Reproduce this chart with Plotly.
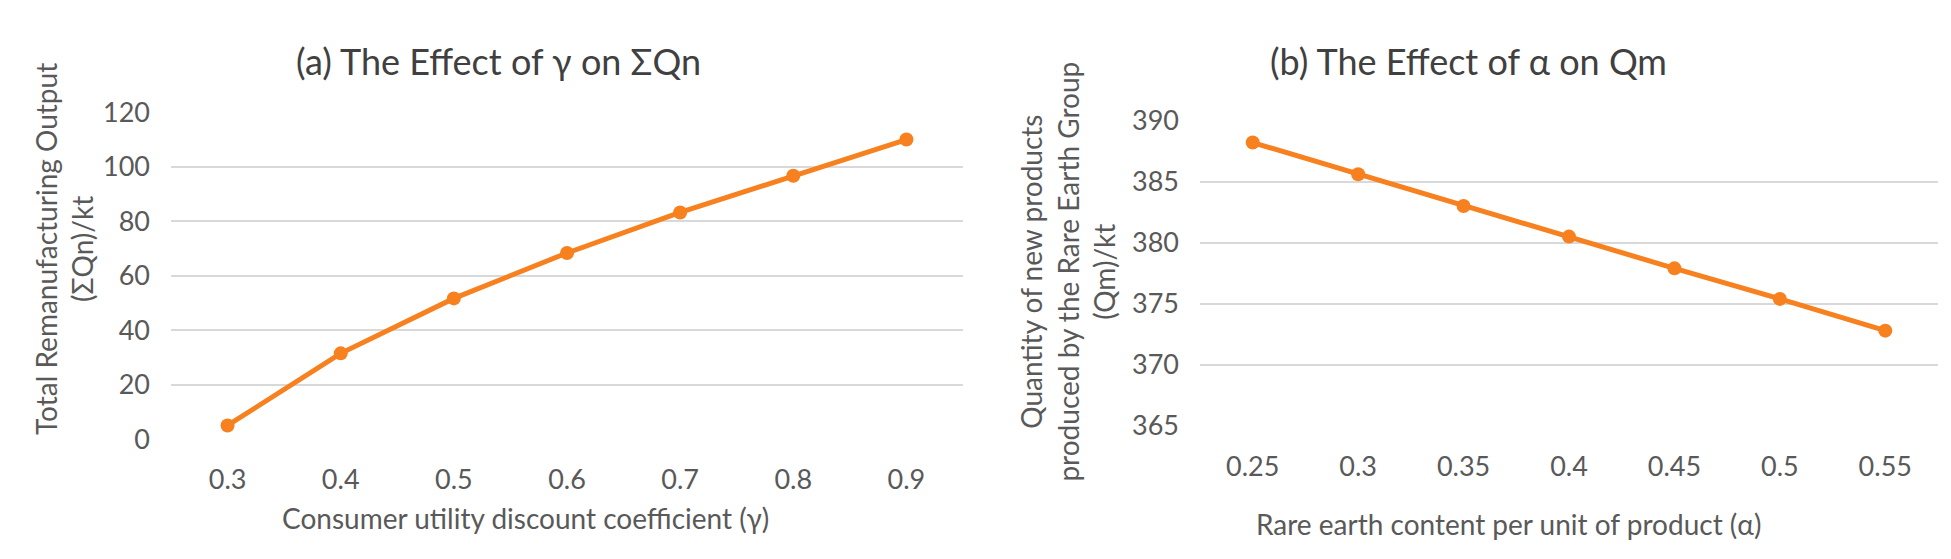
import plotly.graph_objects as go

# (a) effect of gamma on total remanufacturing output
gamma_labels = ["0.3", "0.4", "0.5", "0.6", "0.7", "0.8", "0.9"]
sum_qn = [5.0, 31.5, 51.7, 68.4, 83.3, 96.8, 110.1]

# (b) effect of alpha on new products of the rare earth group
alpha_labels = ["0.25", "0.3", "0.35", "0.4", "0.45", "0.5", "0.55"]
qm = [388.2, 385.6, 383.0, 380.5, 377.9, 375.4, 372.8]

W, H = 1951, 559
ORANGE = "#F7801F"
GRID = "#D9D9D9"
TXT = "#595959"
FONT = "Lato"


def px_x(v):
    return v / W


def px_y(v):
    return 1 - v / H


fig = go.Figure()

fig.add_trace(go.Scatter(
    x=gamma_labels, y=sum_qn, xaxis="x", yaxis="y",
    mode="lines+markers",
    line=dict(color=ORANGE, width=5),
    marker=dict(color=ORANGE, size=14),
    showlegend=False,
))
fig.add_trace(go.Scatter(
    x=alpha_labels, y=qm, xaxis="x2", yaxis="y2",
    mode="lines+markers",
    line=dict(color=ORANGE, width=5),
    marker=dict(color=ORANGE, size=14),
    showlegend=False,
))

xcommon = dict(type="category", range=[-0.5, 6.5], showgrid=False, zeroline=False,
               showline=False, ticks="", ticklabelstandoff=22,
               tickfont=dict(family=FONT, size=27, color=TXT), fixedrange=True)
ycommon = dict(showgrid=True, gridcolor=GRID, gridwidth=1.6, zeroline=False,
               showline=False, ticks="", ticklabelstandoff=20,
               tickfont=dict(family=FONT, size=27, color=TXT), fixedrange=True)

fig.update_layout(
    width=W, height=H,
    margin=dict(l=0, r=0, t=0, b=0),
    paper_bgcolor="white", plot_bgcolor="white",
    xaxis=dict(xcommon, domain=[px_x(163), px_x(955)], anchor="y"),
    yaxis=dict(ycommon, domain=[px_y(439), px_y(92)], anchor="x",
               range=[0, 120], dtick=20),
    xaxis2=dict(xcommon, domain=[px_x(1192), px_x(1930)], anchor="y2"),
    yaxis2=dict(ycommon, domain=[px_y(425), px_y(100.5)], anchor="x2",
                range=[365, 390], dtick=5),
)

notes = [
    # titles
    dict(text="(a) The Effect of γ on ΣQn", x=490, y=37, size=36, color="#404040", angle=0),
    dict(text="(b) The Effect of α on Qm", x=1460, y=37, size=36, color="#404040", angle=0),
    # axis titles
    dict(text="Consumer utility discount coefficient (γ)", x=517, y=523, size=28, color=TXT, angle=0),
    dict(text="Rare earth content per unit of product (α)", x=1500, y=529, size=28, color=TXT, angle=0),
    dict(text="Total Remanufacturing Output<br>(ΣQn)/kt", x=56, y=237, size=28, color=TXT, angle=-90),
    dict(text="Quantity of new products<br>produced by the Rare Earth Group<br>(Qm)/kt",
         x=1060, y=261, size=28, color=TXT, angle=-90),
]
for n in notes:
    fig.add_annotation(
        text=n["text"], xref="paper", yref="paper",
        x=px_x(n["x"]), y=px_y(n["y"]), xanchor="center", yanchor="middle",
        showarrow=False, textangle=n["angle"],
        font=dict(family=FONT, size=n["size"], color=n["color"]),
    )

fig.write_html("out.html", config={"displayModeBar": False})
